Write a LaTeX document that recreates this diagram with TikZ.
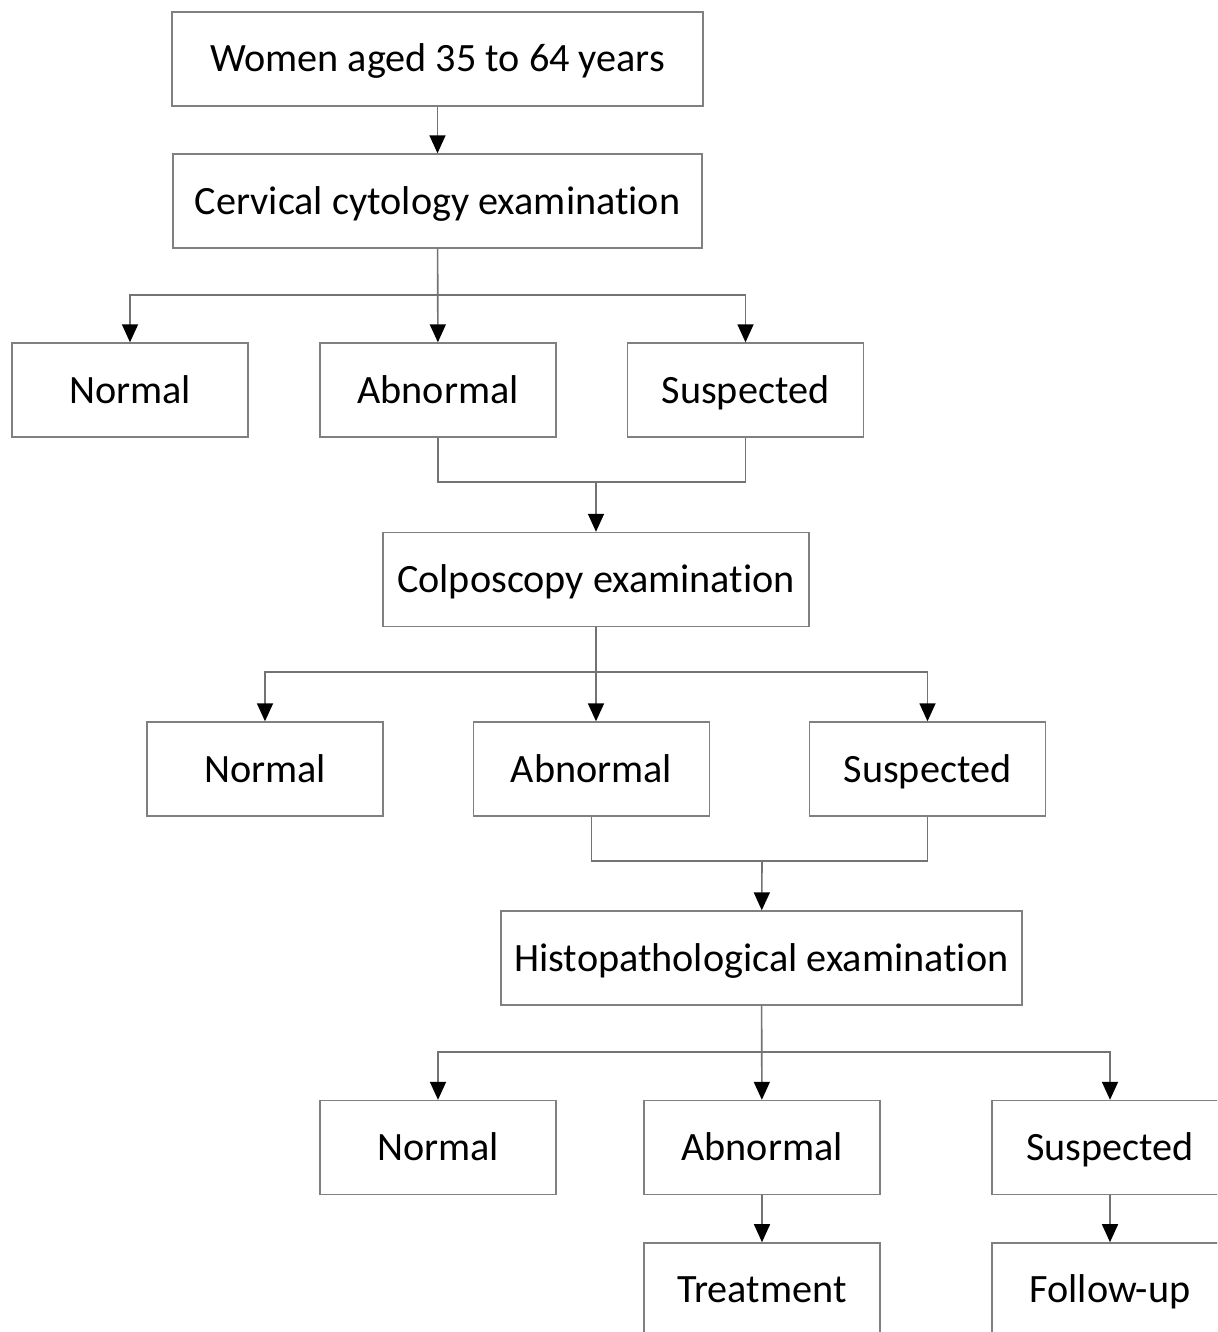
\documentclass[tikz,border=0pt]{standalone}
\usepackage{fontspec}
\setmainfont{Carlito}[Ligatures=NoCommon]
\usepackage{tikz}
\usetikzlibrary{arrows.meta, positioning}
\tikzstyle{stage} = [rectangle, draw=black!50, line width=0.7pt, fill=white,
    minimum height=47pt, text centered, inner sep=0pt,
    text height=13pt, text depth=0pt,
    font=\fontsize{20.1}{24}\selectfont]
\tikzstyle{result} = [stage, minimum width=118pt]
\tikzstyle{link} = [draw=black!55, line width=0.8pt]
\tikzstyle{arrow} = [link, -{Triangle[width=8pt,length=9pt,black]}]

\begin{document}
\begin{tikzpicture}[x=0.5pt, y=-0.5pt]
            \clip (0,0) rectangle (1217,1332);
            \useasboundingbox (0,0) rectangle (1217,1332);
            % Examinations
            \node[stage, minimum width=265.5pt] (women) at (437.5,59) {Women aged 35 to 64 years};
            \node[stage, minimum width=264.5pt] (cytology) at (437.5,201) {Cervical cytology examination};
            \node[stage, minimum width=213pt] (colpo) at (596,579.5) {Colposcopy examination};
            \node[stage, minimum width=260.5pt] (histo) at (761.5,958) {Histopathological examination};
            % Cytology results
            \node[result] (normal1) at (130,390) {Normal};
            \node[result] (abnormal1) at (438,390) {Abnormal};
            \node[result] (suspect1) at (745.5,390) {Suspected};
            % Colposcopy results
            \node[result] (normal2) at (265,769) {Normal};
            \node[result] (abnormal2) at (591.5,769) {Abnormal};
            \node[result] (suspect2) at (927.5,769) {Suspected};
            % Histopathology results
            \node[result] (normal3) at (438,1147.5) {Normal};
            \node[result] (abnormal3) at (762,1147.5) {Abnormal};
            \node[result] (suspect3) at (1110,1147.5) {Suspected};
            \node[result, below=23.5pt of abnormal3] (treat) {Treatment};
            \node[result, below=23.5pt of suspect3] (follow) {Follow-up};
            % Merge points
            \coordinate (merge1) at (596,482);
            \coordinate (merge2) at (762,861);
            % Arrows
            \draw[arrow] (women) -- (cytology);
            \draw[arrow] (cytology) -- (abnormal1);
            \draw[arrow] (cytology.south) -- ++(0,46) -| (normal1.north);
            \draw[arrow] (cytology.south) -- ++(0,46) -| (suspect1.north);
            \draw[link] (abnormal1.south) |- (merge1) -| (suspect1.south);
            \draw[arrow] (merge1) -- (colpo);
            \draw[arrow] (colpo) -- (colpo |- normal2.north);
            \draw[arrow] (colpo.south) -- ++(0,45) -| (normal2.north);
            \draw[arrow] (colpo.south) -- ++(0,45) -| (suspect2.north);
            \draw[link] (abnormal2.south) |- (merge2) -| (suspect2.south);
            \draw[arrow] (merge2) -- (histo);
            \draw[arrow] (histo) -- (abnormal3);
            \draw[arrow] (histo.south) -- ++(0,46) -| (normal3.north);
            \draw[arrow] (histo.south) -- ++(0,46) -| (suspect3.north);
            \draw[arrow] (abnormal3) -- (treat);
            \draw[arrow] (suspect3) -- (follow);
        \end{tikzpicture}
\end{document}
